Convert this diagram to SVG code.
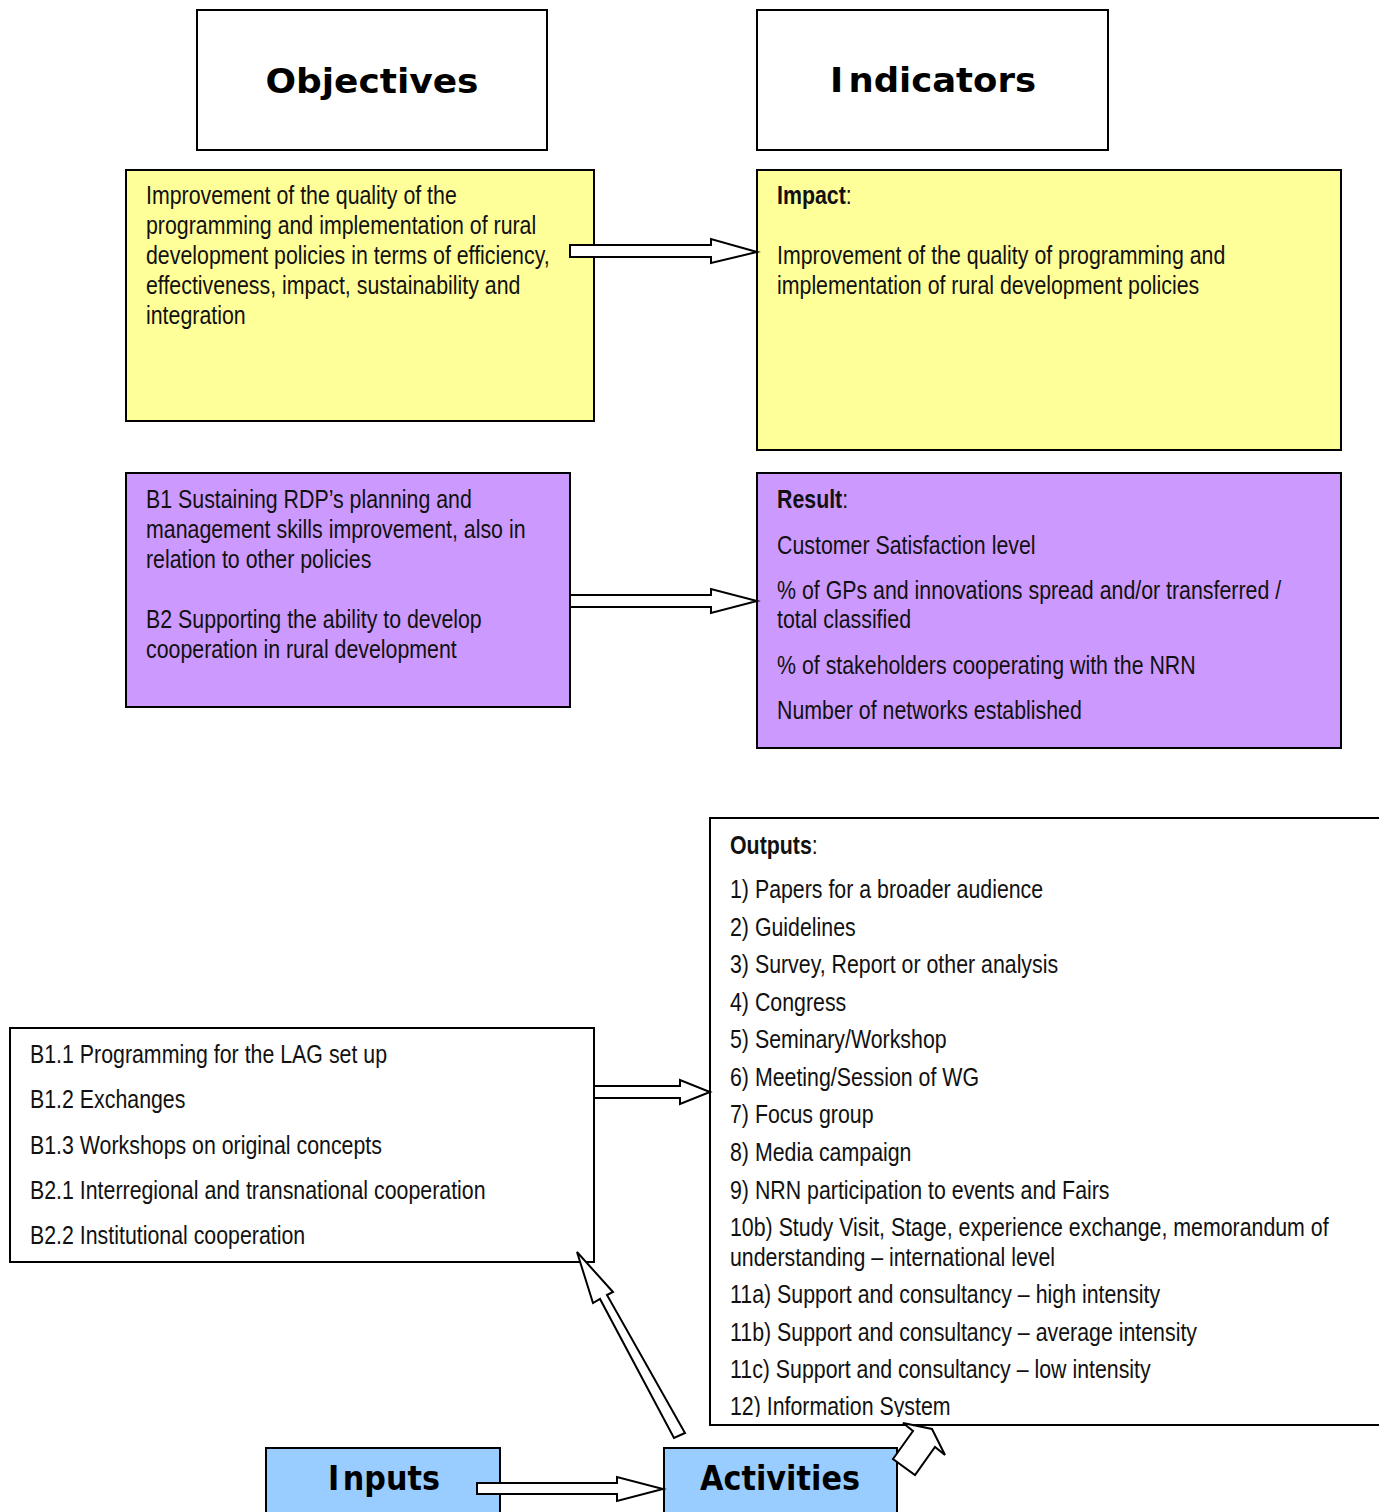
<svg xmlns="http://www.w3.org/2000/svg" width="1379" height="1512" viewBox="0 0 1379 1512">
<style>
.box{stroke:#000;stroke-width:2}
.t{font-family:"Liberation Sans",Arial,sans-serif;font-size:25px;fill:#111}
.b{font-weight:bold}
.h{font-family:"DejaVu Sans",Verdana,sans-serif;font-weight:bold;font-size:34px;fill:#000;text-anchor:middle}
.arr{fill:#fff;stroke:#000;stroke-width:2;stroke-linejoin:miter}
</style>
<defs>
<clipPath id="outclip"><rect x="711" y="819" width="700" height="598"/></clipPath>
</defs>
<rect width="1379" height="1512" fill="#fff"/>
<g id="objectives"><rect class="box" x="197" y="10" width="350" height="140" fill="#fff"/><text class="h" x="372" y="93" textLength="213" lengthAdjust="spacingAndGlyphs">Objectives</text></g>
<g id="indicators"><rect class="box" x="757" y="10" width="351" height="140" fill="#fff"/><text class="h" x="933" y="92" textLength="206" lengthAdjust="spacingAndGlyphs">I<tspan dx="5">ndicators</tspan></text></g>
<g id="obj-impact"><rect class="box" x="126" y="170" width="468" height="251" fill="#ffff99"/>
<g transform="translate(146,0) scale(0.854,1)">
<text class="t" x="0" y="204">Improvement of the quality of the</text>
<text class="t" x="0" y="234">programming and implementation of rural</text>
<text class="t" x="0" y="264">development policies in terms of efficiency,</text>
<text class="t" x="0" y="294">effectiveness, impact, sustainability and</text>
<text class="t" x="0" y="324">integration</text></g></g>
<g id="ind-impact"><rect class="box" x="757" y="170" width="584" height="280" fill="#ffff99"/>
<g transform="translate(777,0) scale(0.854,1)">
<text class="t" x="0" y="204"><tspan class="b">Impact</tspan>:</text>
<text class="t" x="0" y="264">Improvement of the quality of programming and</text>
<text class="t" x="0" y="294">implementation of rural development policies</text></g></g>
<g id="obj-result"><rect class="box" x="126" y="473" width="444" height="234" fill="#cc99ff"/>
<g transform="translate(146,0) scale(0.854,1)">
<text class="t" x="0" y="508">B1 Sustaining RDP’s planning and</text>
<text class="t" x="0" y="538">management skills improvement, also in</text>
<text class="t" x="0" y="568">relation to other policies</text>
<text class="t" x="0" y="628">B2 Supporting the ability to develop</text>
<text class="t" x="0" y="658">cooperation in rural development</text></g></g>
<g id="ind-result"><rect class="box" x="757" y="473" width="584" height="275" fill="#cc99ff"/>
<g transform="translate(777,0) scale(0.854,1)">
<text class="t" x="0" y="508"><tspan class="b">Result</tspan>:</text>
<text class="t" x="0" y="554">Customer Satisfaction level</text>
<text class="t" x="0" y="599">% of GPs and innovations spread and/or transferred /</text>
<text class="t" x="0" y="628">total classified</text>
<text class="t" x="0" y="674">% of stakeholders cooperating with the NRN</text>
<text class="t" x="0" y="719">Number of networks established</text></g></g>
<g id="outputs"><rect class="box" x="710" y="818" width="700" height="607" fill="#fff"/>
<g clip-path="url(#outclip)"><g transform="translate(730,0) scale(0.854,1)">
<text class="t" x="0" y="854"><tspan class="b">Outputs</tspan>:</text>
<text class="t" x="0" y="898">1) Papers for a broader audience</text>
<text class="t" x="0" y="936">2) Guidelines</text>
<text class="t" x="0" y="973">3) Survey, Report or other analysis</text>
<text class="t" x="0" y="1011">4) Congress</text>
<text class="t" x="0" y="1048">5) Seminary/Workshop</text>
<text class="t" x="0" y="1086">6) Meeting/Session of WG</text>
<text class="t" x="0" y="1123">7) Focus group</text>
<text class="t" x="0" y="1161">8) Media campaign</text>
<text class="t" x="0" y="1199">9) NRN participation to events and Fairs</text>
<text class="t" x="0" y="1236">10b) Study Visit, Stage, experience exchange, memorandum of</text>
<text class="t" x="0" y="1266">understanding – international level</text>
<text class="t" x="0" y="1303">11a) Support and consultancy – high intensity</text>
<text class="t" x="0" y="1341">11b) Support and consultancy – average intensity</text>
<text class="t" x="0" y="1378">11c) Support and consultancy – low intensity</text>
<text class="t" x="0" y="1415">12) Information System</text>
</g></g></g>
<g id="activities-list"><rect class="box" x="10" y="1028" width="584" height="234" fill="#fff"/>
<g transform="translate(30,0) scale(0.854,1)">
<text class="t" x="0" y="1063">B1.1 Programming for the LAG set up</text>
<text class="t" x="0" y="1108">B1.2 Exchanges</text>
<text class="t" x="0" y="1154">B1.3 Workshops on original concepts</text>
<text class="t" x="0" y="1199">B2.1 Interregional and transnational cooperation</text>
<text class="t" x="0" y="1244">B2.2 Institutional cooperation</text></g></g>
<g id="inputs"><rect class="box" x="266" y="1448" width="234" height="80" fill="#99ccff"/><text class="h" x="384" y="1490" font-size="30" textLength="112" lengthAdjust="spacingAndGlyphs">I<tspan dx="4">nputs</tspan></text></g>
<g id="activities"><rect class="box" x="664" y="1448" width="233" height="80" fill="#99ccff"/><text class="h" x="780" y="1490" font-size="30" textLength="160" lengthAdjust="spacingAndGlyphs">Activities</text></g>
<g id="connectors">
<polygon class="arr" points="570,245 711,245 711,239 757,252 711,263 711,257 570,257"/>
<polygon class="arr" points="570,595 711,595 711,589 757,601 711,613 711,607 570,607"/>
<polygon class="arr" points="594,1086 680,1086 680,1080 710,1092 680,1104 680,1098 594,1098"/>
<polygon class="arr" points="477,1483 617,1483 617,1477 663,1489 617,1501 617,1494 477,1494"/>
<polygon class="arr" points="577,1252 613,1292 607,1295 685,1433 674,1438 600,1299 593,1303"/>
<polygon class="arr" points="932,1429 945,1455 935,1447 915,1475 893,1459 913,1431 903,1423"/>
</g>
</svg>
